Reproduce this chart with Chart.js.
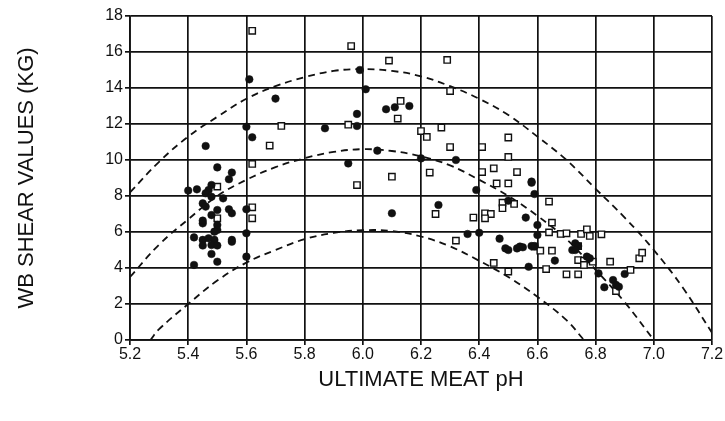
<!DOCTYPE html>
<html>
<head>
<meta charset="utf-8">
<script src="https://cdn.jsdelivr.net/npm/chart.js@4"></script>
<style>
  html, body { margin: 0; padding: 0; background: #fff; }
  #wrap { width: 725px; height: 421px; }
</style>
</head>
<body>
<div id="wrap"><canvas id="shearChart" width="725" height="421"></canvas></div>
<script>
// tick labels
const xTicks = [5.2, 5.4, 5.6, 5.8, 6.0, 6.2, 6.4, 6.6, 6.8, 7.0, 7.2];
const yTicks = [0, 2, 4, 6, 8, 10, 12, 14, 16, 18];

// filled circles (pH, kg)
const filledPh = [5.40, 5.43, 5.48, 5.47, 5.46, 5.48, 5.52, 5.45, 5.46, 5.50, 5.54, 5.55, 5.48, 5.60, 5.45, 5.45, 5.50, 5.50, 5.49, 5.42,
  5.45, 5.47, 5.49, 5.55, 5.60, 5.45, 5.48, 5.50, 5.48, 5.50, 5.55, 5.42, 5.60, 5.50, 5.55, 5.54, 5.46, 5.60, 5.61, 5.62, 5.70,
  5.87, 5.98, 5.99, 6.01, 5.98, 6.08, 6.11, 6.16, 6.05, 5.95, 6.20, 6.32, 6.39, 6.50, 6.26, 6.10, 6.36, 6.40, 6.47, 6.49, 6.50, 6.53,
  6.58, 6.58, 6.59, 6.56, 6.60, 6.60, 6.54, 6.55, 6.58, 6.59, 6.73, 6.74, 6.72, 6.73, 6.77, 6.78, 6.66, 6.57, 6.81, 6.86, 6.90, 6.87, 6.88, 6.83];
const filledKg = [8.30, 8.37, 8.61, 8.33, 8.15, 7.96, 7.87, 7.59, 7.41, 7.22, 7.26, 7.04, 6.94, 7.26, 6.48, 6.63, 6.39, 6.11, 6.02, 5.70,
  5.56, 5.65, 5.56, 5.56, 5.93, 5.25, 5.28, 5.25, 4.78, 4.35, 5.46, 4.17, 4.63, 9.59, 9.30, 8.93, 10.78, 11.85, 14.48, 11.26, 13.41,
  11.76, 11.89, 15.0, 13.93, 12.56, 12.82, 12.93, 13.0, 10.52, 9.81, 10.09, 10.0, 8.33, 7.74, 7.5, 7.04, 5.89, 5.96, 5.63, 5.09, 5.0, 5.09,
  8.74, 8.8, 8.11, 6.80, 6.39, 5.83, 5.19, 5.15, 5.22, 5.22, 5.37, 5.22, 5.0, 5.0, 4.63, 4.54, 4.41, 4.07, 3.70, 3.33, 3.67, 3.06, 2.96, 2.93];

// open squares (pH, kg)
const openPh = [5.62, 5.72, 5.68, 5.62, 5.50, 5.62, 5.62, 5.50,
  5.96, 6.09, 6.29, 6.30, 6.13, 6.12, 5.95, 6.20, 6.22, 6.27, 6.30, 6.41, 6.50, 6.50, 6.10, 6.23, 6.41, 6.45, 6.53, 6.46, 6.50, 5.98,
  6.48, 6.48, 6.52, 6.25, 6.38, 6.42, 6.44, 6.42, 6.32, 6.45, 6.50,
  6.64, 6.65, 6.64, 6.68, 6.70, 6.75, 6.77, 6.78, 6.82, 6.59, 6.61, 6.65, 6.74, 6.74, 6.76, 6.79, 6.76, 6.63, 6.70, 6.74, 6.85, 6.87,
  6.92, 6.95, 6.96];
const openKg = [17.18, 11.89, 10.8, 9.78, 8.52, 7.37, 6.76, 6.76,
  16.33, 15.52, 15.56, 13.83, 13.28, 12.3, 11.96, 11.61, 11.28, 11.8, 10.72, 10.72, 11.25, 10.17, 9.07, 9.30, 9.33, 9.54, 9.33, 8.70, 8.70, 8.61,
  7.63, 7.32, 7.56, 7.0, 6.80, 7.04, 7.0, 6.76, 5.52, 4.28, 3.80,
  7.69, 6.52, 5.98, 5.89, 5.93, 5.89, 6.15, 5.78, 5.87, 5.19, 4.96, 4.96, 5.22, 4.44, 4.41, 4.35, 4.17, 3.94, 3.65, 3.65, 4.35, 2.72,
  3.89, 4.54, 4.85];

// dashed curves
const upperPh = [5.2, 5.3, 5.4, 5.5, 5.6, 5.7, 5.8, 5.9, 6.0, 6.1, 6.2, 6.3, 6.4, 6.5, 6.6, 6.7, 6.8, 6.9, 7.0, 7.1, 7.2];
const upperKg = [8.2, 9.9, 11.3, 12.4, 13.4, 14.1, 14.6, 14.95, 15.05, 14.95, 14.65, 14.1, 13.4, 12.5, 11.3, 10.0, 8.4, 6.8, 5.0, 2.9, 0.4];
const midPh = [5.2, 5.3, 5.4, 5.5, 5.6, 5.7, 5.8, 5.9, 6.0, 6.1, 6.2, 6.3, 6.4, 6.5, 6.6, 6.7, 6.8, 6.9, 7.0];
const midKg = [3.5, 5.3, 6.7, 8.0, 8.9, 9.6, 10.1, 10.45, 10.6, 10.5, 10.2, 9.7, 8.9, 8.0, 6.9, 5.6, 3.9, 2.1, 0.0];
const lowPh = [5.27, 5.3, 5.4, 5.5, 5.6, 5.7, 5.8, 5.9, 6.0, 6.1, 6.2, 6.3, 6.4, 6.5, 6.6, 6.7, 6.76];
const lowKg = [0.0, 0.6, 2.0, 3.3, 4.3, 5.0, 5.6, 5.95, 6.1, 6.05, 5.75, 5.2, 4.4, 3.5, 2.4, 1.1, 0.0];

const toXY = (xs, ys) => xs.map((x, i) => ({ x: x, y: ys[i] }));

const ink = '#111';
const font = "'Liberation Sans', Arial, sans-serif";

const curve = (xs, ys) => ({
    type: 'line',
    data: toXY(xs, ys),
    showLine: true,
    borderColor: ink,
    borderWidth: 1.8,
    borderDash: [7, 5],
    pointRadius: 0,
    tension: 0.4,
    fill: false
});

new Chart(document.getElementById('shearChart').getContext('2d'), {
    type: 'scatter',
    data: {
        datasets: [
            {
                data: toXY(filledPh, filledKg),
                pointStyle: 'circle',
                pointRadius: 3.8,
                backgroundColor: ink,
                borderColor: ink,
                borderWidth: 0.5
            },
            {
                data: toXY(openPh, openKg),
                pointStyle: 'rect',
                pointRadius: 4.5,
                backgroundColor: '#fff',
                borderColor: ink,
                borderWidth: 1.4
            },
            curve(upperPh, upperKg),
            curve(midPh, midKg),
            curve(lowPh, lowKg)
        ]
    },
    options: {
        responsive: false,
        animation: false,
        devicePixelRatio: 1,
        layout: { padding: { top: 16, right: 13, left: 0, bottom: 0 } },
        plugins: {
            legend: { display: false },
            tooltip: { enabled: false }
        },
        scales: {
            x: {
                type: 'linear',
                min: 5.2,
                max: 7.2,
                afterBuildTicks: (s) => { s.ticks = xTicks.map(v => ({ value: v })); },
                afterFit: (s) => { s.height = 81; },
                ticks: {
                    color: ink,
                    font: { family: font, size: 16 },
                    padding: 0,
                    maxRotation: 0,
                    callback: (v) => Number(v).toFixed(1)
                },
                grid: { color: ink, lineWidth: 1.7, tickLength: 5 },
                border: { color: ink, width: 1.8 },
                title: {
                    display: true,
                    text: 'ULTIMATE MEAT pH',
                    color: ink,
                    font: { family: font, size: 22 },
                    padding: { top: 0, bottom: 28 }
                }
            },
            y: {
                type: 'linear',
                min: 0,
                max: 18,
                afterBuildTicks: (s) => { s.ticks = yTicks.map(v => ({ value: v })); },
                afterFit: (s) => { s.width = 130; },
                ticks: {
                    color: ink,
                    font: { family: font, size: 16 },
                    padding: 2
                },
                grid: { color: ink, lineWidth: 1.7, tickLength: 5 },
                border: { color: ink, width: 1.8 },
                title: {
                    display: true,
                    text: 'WB SHEAR VALUES (KG)',
                    color: ink,
                    font: { family: font, size: 22 },
                    padding: { top: 14, bottom: 0 }
                }
            }
        }
    }
});
</script>
</body>
</html>
